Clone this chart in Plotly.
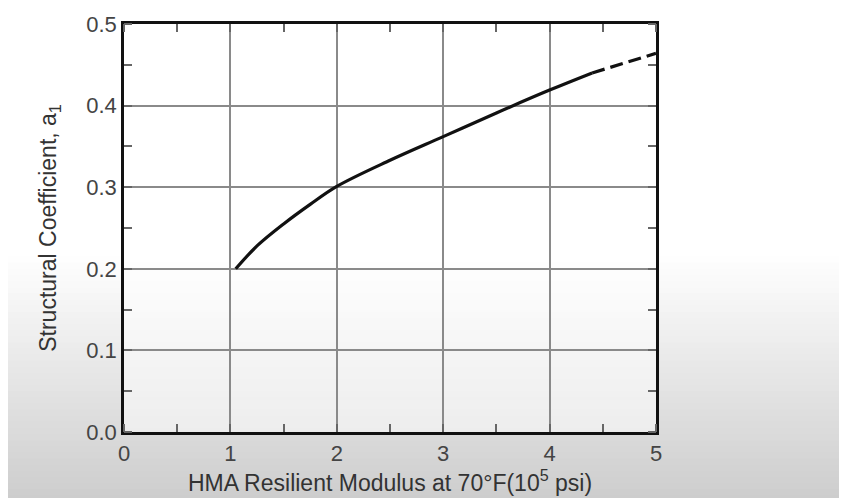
import plotly.graph_objects as go

# Data
modulus_solid = [1.05, 1.25, 1.5, 1.75, 2.0, 2.5, 3.0, 3.5, 4.0, 4.4]
a1_solid = [0.200, 0.228, 0.255, 0.279, 0.301, 0.333, 0.362, 0.391, 0.419, 0.440]
modulus_dashed = [4.4, 4.7, 5.0]
a1_dashed = [0.440, 0.452, 0.464]

x_ticks = [0, 1, 2, 3, 4, 5]
y_ticks = [0.0, 0.1, 0.2, 0.3, 0.4, 0.5]
y_tick_labels = ["0.0", "0.1", "0.2", "0.3", "0.4", "0.5"]

fig = go.Figure()
fig.add_trace(go.Scatter(x=modulus_solid, y=a1_solid, mode="lines",
                         line=dict(color="#111111", width=3.2, shape="spline"),
                         showlegend=False, hoverinfo="skip"))
fig.add_trace(go.Scatter(x=modulus_dashed, y=a1_dashed, mode="lines",
                         line=dict(color="#111111", width=3.2, dash="13px,6px"),
                         showlegend=False, hoverinfo="skip"))

# Background gradient (screenshot vignette), in paper coordinates
shapes = []
n = 40
top_p = 0.43
bot_p = -0.17
for i in range(n):
    f0 = i / n
    f1 = (i + 1) / n
    y1 = top_p + (bot_p - top_p) * f0
    y0 = top_p + (bot_p - top_p) * f1
    g = int(round(255 - f1 * 50))
    shapes.append(dict(type="rect", xref="paper", yref="paper",
                       x0=-0.3, x1=1.5, y0=y0 - 0.003, y1=y1,
                       fillcolor=f"rgb({g},{g},{g})", line=dict(width=0),
                       layer="below"))
# lighter interior of the plot area
shapes.append(dict(type="rect", xref="paper", yref="paper", x0=0, x1=1, y0=0, y1=1,
                   fillcolor="rgba(255,255,255,0.5)", line=dict(width=0), layer="below"))

tick_font = dict(family="Liberation Sans, Arial, sans-serif", size=22, color="#444444")
title_font = dict(family="Liberation Sans, Arial, sans-serif", size=23, color="#333333")

fig.update_layout(
    width=839, height=490,
    margin=dict(l=116, r=191, t=16, b=66),
    paper_bgcolor="white",
    plot_bgcolor="rgba(0,0,0,0)",
    shapes=shapes,
    xaxis=dict(range=[0, 5], tickvals=x_ticks, ticktext=[str(v) for v in x_ticks],
               showgrid=True, gridcolor="#8a8a8a", gridwidth=1.5,
               showline=True, linecolor="#111111", linewidth=2.5, mirror="allticks",
               ticks="", tickfont=tick_font, zeroline=False, automargin=False,
               minor=dict(ticks="inside", dtick=0.5, tick0=0, ticklen=8,
                          tickcolor="#666666", tickwidth=1.5, showgrid=False),
               title=dict(text="HMA Resilient Modulus at 70°F(10<sup>5</sup> psi)",
                          font=title_font, standoff=8)),
    yaxis=dict(range=[0, 0.5], tickvals=y_ticks, ticktext=y_tick_labels,
               showgrid=True, gridcolor="#8a8a8a", gridwidth=1.5,
               showline=True, linecolor="#111111", linewidth=2.5, mirror="allticks",
               ticks="", tickfont=tick_font, zeroline=False, automargin=False,
               minor=dict(ticks="inside", dtick=0.05, tick0=0, ticklen=8,
                          tickcolor="#666666", tickwidth=1.5, showgrid=False),
               title=dict(text="Structural Coefficient, a<sub>1</sub>",
                          font=title_font, standoff=24)),
)

fig.write_html("out.html")
